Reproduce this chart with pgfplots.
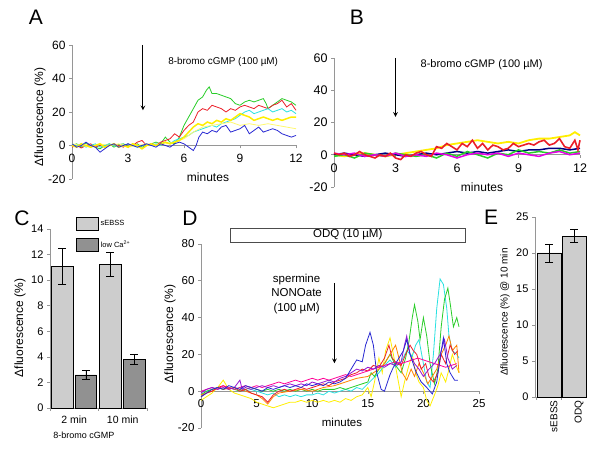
\documentclass[border=0pt]{standalone}
\usepackage{pgfplots}
\pgfplotsset{compat=1.18}
\usepackage{fontspec}
\setmainfont{Liberation Sans}
\definecolor{tgreen}{RGB}{40,205,40}
\definecolor{tred}{RGB}{235,30,40}
\definecolor{tcyan}{RGB}{40,225,225}
\definecolor{tyellow}{RGB}{255,238,0}
\definecolor{tyellow2}{RGB}{255,248,110}
\definecolor{tblue}{RGB}{40,40,210}
\definecolor{tnavy}{RGB}{0,0,130}
\definecolor{tmag}{RGB}{230,0,230}
\definecolor{torange}{RGB}{255,130,0}
\definecolor{tpurple}{RGB}{150,20,210}
\definecolor{tpink}{RGB}{255,0,150}
\definecolor{barlight}{RGB}{205,205,205}
\definecolor{bardark}{RGB}{145,145,145}
\definecolor{axgray}{RGB}{150,150,150}
\pgfplotsset{
  myaxis/.style={
    scale only axis, clip=false, anchor=south west,
    axis line style={draw=axgray, line width=0.6pt},
    x axis line style={-}, y axis line style={-},
    tick style={draw=axgray, line width=0.6pt},
    major tick length=3pt, tick align=outside,
    /pgf/number format/assume math mode=true,
    hide obscured x ticks=false, hide obscured y ticks=false,
  },
  ebar/.style={error bars/.cd, y dir=both, y explicit, error bar style={black, line width=0.5pt}, error mark options={rotate=90, mark size=4pt, black, line width=0.5pt}},
}
\begin{document}
\begin{tikzpicture}
\useasboundingbox (0pt,0pt) rectangle (600pt,462pt);

% ---------------- Panel A ----------------
\begin{axis}[at={(72pt,283pt)}, width=224pt, height=134pt,
  axis x line=middle, axis y line=left, myaxis, xtick align=outside,
  xmin=0, xmax=12, ymin=-20, ymax=60,
  xtick={0,3,6,9,12}, ytick={-20,0,20,40,60},
  ticklabel style={font=\fontsize{12}{13}\selectfont},
  xticklabel style={yshift=-2pt}]
\addplot[tgreen, line width=0.8pt] coordinates {(0,0) (0.25,1) (0.5,-1) (0.75,1.5) (1,0) (1.25,-1) (1.5,-2) (1.75,0) (2,1) (2.25,-1) (2.5,0.5) (2.75,1) (3,-0.5) (3.25,0) (3.5,1) (3.75,-1) (4,0) (4.25,1) (4.5,2) (4.75,1) (5,5) (5.25,2) (5.5,1) (5.75,5) (6,12) (6.25,17) (6.5,22) (6.75,27) (7,29) (7.2,33) (7.35,35) (7.5,31) (7.75,31) (8,30) (8.25,29) (8.5,28) (8.75,25) (9,24) (9.25,26) (9.5,27) (9.75,26) (10,27) (10.25,28) (10.4,25) (10.5,22) (10.75,24) (11,26) (11.25,28) (11.5,27) (11.75,26) (12,24)};
\addplot[tred, line width=0.8pt] coordinates {(0,-1) (0.25,0) (0.5,-1.5) (0.75,0) (1,1) (1.25,-1) (1.5,0) (1.75,-1) (2,0) (2.25,1) (2.5,0) (2.75,-1) (3,1) (3.25,0) (3.5,2) (3.75,3) (4,0) (4.25,1) (4.5,0) (4.75,2) (5,3) (5.25,4) (5.5,7) (5.75,5) (6,9) (6.25,12) (6.5,14) (6.75,20) (7,22) (7.25,21) (7.5,24) (7.75,23) (8,22) (8.25,20) (8.5,22) (8.75,21) (9,23) (9.25,24) (9.5,23) (9.75,22) (10,24) (10.25,23) (10.5,22) (10.75,24) (11,25) (11.25,27) (11.5,23) (11.75,25) (12,21)};
\addplot[tcyan, line width=0.8pt] coordinates {(0,1) (0.25,0) (0.5,1) (0.75,-1) (1,0) (1.25,1) (1.5,-1) (1.75,0) (2,1) (2.25,0) (2.5,-1) (2.75,0) (3,1) (3.25,0) (3.5,-1) (3.75,0) (4,1) (4.25,0) (4.5,1) (4.75,0) (5,2) (5.25,1) (5.5,3) (5.75,4) (6,5) (6.25,6) (6.5,8) (6.75,9) (7,10) (7.25,11) (7.5,12) (7.75,11) (8,13) (8.25,14) (8.5,15) (8.75,16) (9,18) (9.25,20) (9.5,21) (9.75,19) (10,20) (10.25,21) (10.5,22) (10.75,20) (11,21) (11.25,22) (11.5,20) (11.75,21) (12,19)};
\addplot[tyellow2, line width=0.8pt] coordinates {(0,1) (0.5,0) (1,-1) (1.5,1) (2,0) (2.5,1) (3,-1) (3.5,0) (4,1) (4.5,0) (5,1) (5.5,2) (6,4) (6.5,8) (7,11) (7.5,12) (8,13) (8.5,14) (9,12) (9.5,13) (10,12) (10.5,13) (11,12) (11.5,11) (12,10)};
\addplot[tyellow, line width=1.5pt] coordinates {(0,0) (0.25,-1) (0.5,1) (0.75,0) (1,-1) (1.25,0) (1.5,1) (1.75,-1) (2,0) (2.25,1) (2.5,-1) (2.75,0) (3,-1) (3.25,1) (3.5,0) (3.75,-2) (4,0) (4.25,1) (4.5,0) (4.75,1) (5,2) (5.25,1) (5.5,2) (5.75,3) (6,5) (6.25,8) (6.5,11) (6.75,13) (7,12) (7.25,14) (7.5,13) (7.75,15) (8,14) (8.25,16) (8.5,15) (8.75,17) (9,19) (9.25,18) (9.5,17) (9.75,15) (10,16) (10.25,17) (10.5,16) (10.75,15) (11,16) (11.25,15) (11.5,16) (11.75,17) (12,17)};
\addplot[tblue, line width=0.8pt] coordinates {(0,1) (0.25,-1) (0.5,0) (0.75,2) (1,0) (1.25,-1) (1.5,-4) (1.75,-2) (2,0) (2.25,1) (2.5,-1) (2.75,0) (3,1) (3.25,0) (3.5,-1) (3.75,0) (4,1) (4.25,0) (4.5,-1) (4.75,1) (5,0) (5.25,-1) (5.5,1) (5.75,2) (6,1) (6.25,-1) (6.5,-3) (6.65,0) (6.8,5) (7,8) (7.25,7) (7.5,9) (7.75,8) (8,11) (8.25,12) (8.5,8) (8.75,9) (9,10) (9.25,12) (9.5,7) (9.75,9) (10,11) (10.25,8) (10.5,9) (10.75,10) (11,9) (11.25,7) (11.5,6) (11.75,5) (12,6)};
\draw[-stealth, line width=1.1pt, black] (axis cs:3.8,60) -- (axis cs:3.8,21);
\node[font=\fontsize{9.9}{11}\selectfont] at (axis cs:8.1,50) {8-bromo cGMP (100 µM)};
\end{axis}

% ---------------- Panel B ----------------
\begin{axis}[at={(334pt,275pt)}, width=246pt, height=129pt,
  axis x line=middle, axis y line=left, myaxis, xtick align=outside,
  xmin=0, xmax=12, ymin=-20, ymax=60,
  xtick={0,3,6,9,12}, ytick={-20,0,20,40,60},
  ticklabel style={font=\fontsize{12.5}{13}\selectfont},
  xticklabel style={yshift=-2pt}]
\addplot[tyellow, line width=1.8pt] coordinates {(0,0) (0.5,-1) (1,0) (1.5,1) (2,0) (2.5,-1) (3,0) (3.5,1) (4,2) (4.5,3) (5,4) (5.5,6) (6,7) (6.5,8) (7,9) (7.5,8) (8,7) (8.5,8) (9,7) (9.5,9) (10,10) (10.5,10) (11,11) (11.5,12) (11.75,14) (12,12)};
\addplot[tnavy, line width=1.5pt] coordinates {(0,0) (0.5,1) (1,0) (1.5,-1) (2,0) (2.5,1) (3,0) (3.5,-1) (4,0) (4.5,1) (5,0) (5.5,1) (6,2) (6.5,1) (7,2) (7.5,1) (8,2) (8.5,3) (9,2) (9.5,3) (10,3) (10.5,4) (11,4) (11.5,3) (12,4)};
\addplot[tgreen, line width=1.5pt] coordinates {(0,-1) (0.5,0) (1,-2) (1.5,1) (2,0) (2.5,-1) (3,1) (3.5,0) (4,-1) (4.5,0) (5,-2) (5.5,1) (6,-1) (6.5,2) (7,0) (7.5,-2) (8,1) (8.5,0) (9,3) (9.5,1) (10,2) (10.5,1) (11,3) (11.5,1) (12,2)};
\addplot[tmag, line width=1.5pt] coordinates {(0,1) (0.5,0) (1,1) (1.5,-1) (2,0) (2.5,-1) (3,1) (3.5,-1) (4,0) (4.5,-1) (5,1) (5.5,0) (6,-2) (6.5,0) (7,1) (7.5,0) (8,1) (8.5,-1) (9,1) (9.5,0) (10,-1) (10.5,1) (11,2) (11.5,0) (12,1)};
\addplot[tred, line width=1.6pt] coordinates {(0,1) (0.25,0) (0.5,1) (0.75,-1) (1,0) (1.25,2) (1.5,0) (1.75,-1) (2,-2) (2.25,0) (2.5,-1) (2.75,1) (3,-2) (3.25,-3) (3.5,0) (3.75,-1) (4,1) (4.25,2) (4.5,0) (4.75,-1) (5,5) (5.25,4) (5.5,7) (5.75,5) (6,3) (6.25,7) (6.5,5) (6.75,9) (7,4) (7.25,7) (7.5,3) (7.75,6) (8,5) (8.25,3) (8.5,4) (8.75,7) (9,5) (9.25,6) (9.5,7) (9.75,6) (10,8) (10.25,9) (10.5,6) (10.75,7) (11,10) (11.25,5) (11.5,4) (11.75,9) (11.9,3) (12,9)};
\draw[-stealth, line width=1.1pt, black] (axis cs:3,60) -- (axis cs:3,23.5);
\node[font=\fontsize{11}{12}\selectfont] at (axis cs:7.2,55.7) {8-bromo cGMP (100 µM)};
\end{axis}

% ---------------- Panel C ----------------
\begin{axis}[at={(50pt,54pt)}, width=97pt, height=179pt,
  axis x line=bottom, axis y line=left, myaxis,
  xmin=-0.5, xmax=1.5, ymin=0, ymax=14,
  xtick={-0.5,0.5,1.5}, xticklabels={}, ytick={0,2,...,14},
  ticklabel style={font=\fontsize{11}{12}\selectfont},
  legend style={at={(0.237,1.078)}, anchor=north west, draw=none, fill=none,
    font=\fontsize{7.5}{8}\selectfont, row sep=7pt, legend cell align=left},
  legend image code/.code={\draw[#1, draw=black, line width=0.5pt] (0pt,-6.5pt) rectangle (22pt,6.5pt);}]
\addplot[ybar, bar width=21.5pt, bar shift=0pt, fill=barlight, draw=black, line width=0.5pt, ebar]
  coordinates {(-0.245,11.1) +- (0,1.4) (0.745,11.25) +- (0,0.95)};
\addlegendentry{sEBSS}
\addplot[ybar, bar width=21.5pt, bar shift=0pt, fill=bardark, draw=black, line width=0.5pt, ebar]
  coordinates {(0.24,2.6) +- (0,0.35) (1.24,3.8) +- (0,0.4)};
\addlegendentry{low Ca\textsuperscript{2+}}
\node[font=\fontsize{10.5}{12}\selectfont, anchor=north] at (axis cs:0,0) [yshift=-4pt] {2 min};
\node[font=\fontsize{10.5}{12}\selectfont, anchor=north] at (axis cs:1,0) [yshift=-4pt] {10 min};
\end{axis}

% ---------------- Panel D ----------------
\begin{axis}[at={(201pt,34pt)}, width=278pt, height=184pt,
  axis x line=middle, axis y line=left, myaxis, xtick align=outside,
  xmin=0, xmax=25, ymin=-20, ymax=80,
  xtick={0,5,...,25}, ytick={-20,0,...,80},
  ticklabel style={font=\fontsize{11.5}{12}\selectfont},
  xticklabel style={yshift=-2pt}]
\addplot[tyellow, line width=0.8pt] coordinates {(0,-5) (0.5,-3) (1,-1) (1.5,2) (2,6) (2.5,1) (3,-1) (3.5,-2) (4,-3) (4.5,-4) (5,-6) (5.5,-7) (6,-8) (6.5,-9) (7,-8) (7.5,-7) (8,-6) (8.5,-6) (9,-5) (9.5,-6) (10,-5) (10.5,-6) (11,-5) (11.5,-6) (12,-5) (12.5,-6) (13,-4) (13.5,-5) (14,-3) (14.5,-2) (15,2) (15.3,-3) (15.6,5) (16,18) (16.3,10) (16.6,22) (17,29) (17.3,20) (17.6,10) (18,-3) (18.3,5) (18.6,12) (19,20) (19.3,10) (19.6,5) (20,2) (20.3,-5) (20.6,-8) (21,-2) (21.3,3) (21.6,10) (22,5) (22.3,12) (22.6,20) (23,13) (23.2,10)};
\addplot[tcyan, line width=0.8pt] coordinates {(0,-2) (0.5,0) (1,1) (1.5,2) (2,1) (2.5,2) (3,1) (3.5,2) (4,0) (4.5,1) (5,0) (5.5,-1) (6,-2) (6.5,-1) (7,-3) (7.5,-2) (8,-3) (8.5,-2) (9,-3) (9.5,-2) (10,-2) (10.5,-1) (11,-2) (11.5,0) (12,-1) (12.5,0) (13,1) (13.5,0) (14,2) (14.5,1) (15,4) (15.5,7) (16,10) (16.5,14) (17,17) (17.5,13) (18,16) (18.5,22) (19,19) (19.3,25) (19.6,28) (20,15) (20.3,5) (20.6,2) (20.9,20) (21.2,45) (21.5,61) (21.8,58) (22.1,45) (22.3,30) (22.6,22) (23,20) (23.2,18)};
\addplot[tgreen, line width=0.8pt] coordinates {(0,-2) (0.5,0) (1,1) (1.5,2) (2,1) (2.5,2) (3,1) (3.5,0) (4,1) (4.5,2) (5,1) (5.5,0) (6,1) (6.5,0) (7,1) (7.5,0) (8,1) (8.5,0) (9,1) (9.5,0) (10,1) (10.5,0) (11,1) (11.5,1) (12,1) (12.5,2) (13,1) (13.5,2) (14,3) (14.5,4) (15,5) (15.3,10) (15.6,8) (16,12) (16.5,15) (17,20) (17.5,14) (18,10) (18.4,18) (18.7,27) (19,40) (19.2,47) (19.5,38) (19.7,28) (20,40) (20.3,30) (20.6,15) (21,4) (21.3,12) (21.6,35) (21.9,50) (22.2,56) (22.4,48) (22.7,35) (23,40) (23.2,35)};
\addplot[torange, line width=0.8pt] coordinates {(0,-2) (1,0) (1.5,2) (2,1) (3,2) (4,0) (5,-2) (5.5,-4) (6,-7) (6.5,-3) (7,-1) (8,0) (9,1) (10,0) (11,2) (12,3) (13,5) (14,7) (15,8) (15.5,10) (16,12) (16.5,15) (17,20) (17.5,25) (17.8,18) (18.1,10) (18.5,6) (18.9,12) (19.2,8) (19.6,15) (20,10) (20.4,4) (20.8,8) (21.2,12) (21.6,20) (22,25) (22.3,30) (22.6,22) (23,25) (23.2,10)};
\addplot[tred, line width=0.8pt] coordinates {(0,-3) (0.5,-1) (1,0) (1.5,2) (2,3) (2.5,1) (3,2) (3.5,0) (4,1) (4.5,-1) (5,-2) (5.5,-3) (6,-6) (6.5,-2) (7,0) (7.5,1) (8,0) (8.5,1) (9,2) (9.5,1) (10,2) (10.5,3) (11,4) (11.5,3) (12,5) (12.5,6) (13,7) (13.5,9) (14,10) (14.5,12) (15,11) (15.5,14) (16,13) (16.5,18) (16.9,25) (17.2,18) (17.6,15) (18,14) (18.4,20) (18.8,25) (19.1,22) (19.4,20) (19.8,12) (20.2,15) (20.5,8) (20.9,5) (21.3,10) (21.6,20) (22,15) (22.4,25) (22.8,20) (23.1,22)};
\addplot[tpink, line width=0.8pt] coordinates {(0,0) (0.5,1) (1,2) (1.5,1) (2,3) (2.5,2) (3,1) (3.5,2) (4,3) (4.5,2) (5,3) (5.5,2) (6,3) (6.5,4) (7,5) (7.5,4) (8,5) (8.5,6) (9,5) (9.5,6) (10,7) (10.5,6) (11,7) (11.5,6) (12,7) (12.5,8) (13,9) (13.5,8) (14,9) (14.5,10) (15,11) (15.5,12) (16,13) (16.5,14) (17,15) (17.5,16) (18,15) (18.5,16) (19,17) (19.5,18) (20,17) (20.5,16) (21,15) (21.5,14) (22,13) (22.5,14) (23,15)};
\addplot[tpurple, line width=0.8pt] coordinates {(0,-1) (0.5,1) (1,2) (1.5,1) (2,2) (2.5,1) (3,2) (3.5,6) (3.7,1) (4,2) (4.5,1) (5,2) (5.5,3) (6,2) (6.5,3) (7,2) (7.5,3) (8,4) (8.5,3) (9,4) (9.5,3) (10,5) (10.5,4) (11,5) (11.5,6) (12,5) (12.5,7) (13,8) (13.5,10) (14,12) (14.5,11) (15,13) (15.5,12) (16,14) (16.5,13) (17,15) (17.5,14) (18,16) (18.3,25) (18.5,30) (18.8,20) (19.2,15) (19.6,12) (20,8) (20.5,12) (21,15) (21.5,20) (21.9,28) (22.2,18) (22.6,12) (23,14)};
\addplot[tblue, line width=0.8pt] coordinates {(0,-3) (0.5,-1) (1,1) (1.5,2) (2,1) (2.5,3) (3,2) (3.5,1) (4,3) (4.5,2) (5,1) (5.5,0) (6,2) (6.5,1) (7,2) (7.5,3) (8,2) (8.5,3) (9,2) (9.5,4) (10,3) (10.5,4) (11,3) (11.5,5) (12,4) (12.5,5) (13,7) (13.5,12) (14,17) (14.5,16) (14.8,25) (15.2,32) (15.5,25) (15.8,10) (16.2,1) (16.5,0) (17,9) (17.3,13) (17.8,18) (18.2,22) (18.5,28) (18.8,20) (19.3,11) (19.8,5) (20.3,2) (20.8,-1.5) (21.2,5) (21.5,18) (21.8,29) (22.1,15) (22.4,10) (22.8,6) (23.1,6)};
\draw[-stealth, line width=1.1pt, black] (axis cs:12,58.8) -- (axis cs:12,15.2);
\node[font=\fontsize{11.5}{14.5}\selectfont, align=center] at (axis cs:8.6,53) {spermine\\NONOate\\(100 µM)};
\draw[line width=0.6pt, black!70] (axis cs:2.6,81.1) rectangle (axis cs:23.8,88.7);
\node[font=\fontsize{11.5}{12}\selectfont] at (axis cs:13.2,84.9) {ODQ (10 µM)};
\end{axis}

% ---------------- Panel E ----------------
\begin{axis}[at={(535pt,65pt)}, width=51pt, height=180pt,
  axis x line=bottom, axis y line=left, myaxis,
  xmin=-0.56, xmax=1.48, ymin=0, ymax=25,
  xtick={-0.5,0.5,1.5}, xticklabels={}, ytick={0,5,...,25},
  ticklabel style={font=\fontsize{11}{12}\selectfont}]
\addplot[ybar, bar width=24pt, bar shift=0pt, fill=barlight, draw=black, line width=0.6pt, ebar]
  coordinates {(0,20) +- (0,1.25) (1,22.35) +- (0,0.9)};
\node[font=\fontsize{10}{11}\selectfont, rotate=90, anchor=east] at (axis cs:0,0) [yshift=-5pt] {sEBSS};
\node[font=\fontsize{10}{11}\selectfont, rotate=90, anchor=east] at (axis cs:1,0) [yshift=-5pt] {ODQ};
\end{axis}

% ---------------- Labels ----------------
\node[font=\fontsize{21}{24}\selectfont] at (36pt,445pt) {A};
\node[font=\fontsize{21}{24}\selectfont] at (357pt,445pt) {B};
\node[font=\fontsize{21}{24}\selectfont] at (22pt,244pt) {C};
\node[font=\fontsize{21}{24}\selectfont] at (190pt,244pt) {D};
\node[font=\fontsize{21}{24}\selectfont] at (491pt,245pt) {E};
\node[font=\fontsize{12}{13}\selectfont, rotate=90] at (40pt,345pt) {Δfluorescence (\%)};
\node[font=\fontsize{12}{13}\selectfont] at (208pt,285pt) {minutes};
\node[font=\fontsize{12}{13}\selectfont] at (482pt,275pt) {minutes};
\node[font=\fontsize{12}{13}\selectfont, rotate=90] at (20pt,134pt) {Δfluorescence (\%)};
\node[font=\fontsize{9}{11}\selectfont] at (84pt,27pt) {8-bromo cGMP};
\node[font=\fontsize{12}{13}\selectfont, rotate=90] at (170pt,128pt) {Δfluorescence (\%)};
\node[font=\fontsize{11.5}{13}\selectfont] at (342pt,40pt) {minutes};
\node[font=\fontsize{10}{11}\selectfont, rotate=90] at (505pt,150pt) {Δfluorescence (\%) @ 10 min};
\end{tikzpicture}
\end{document}
